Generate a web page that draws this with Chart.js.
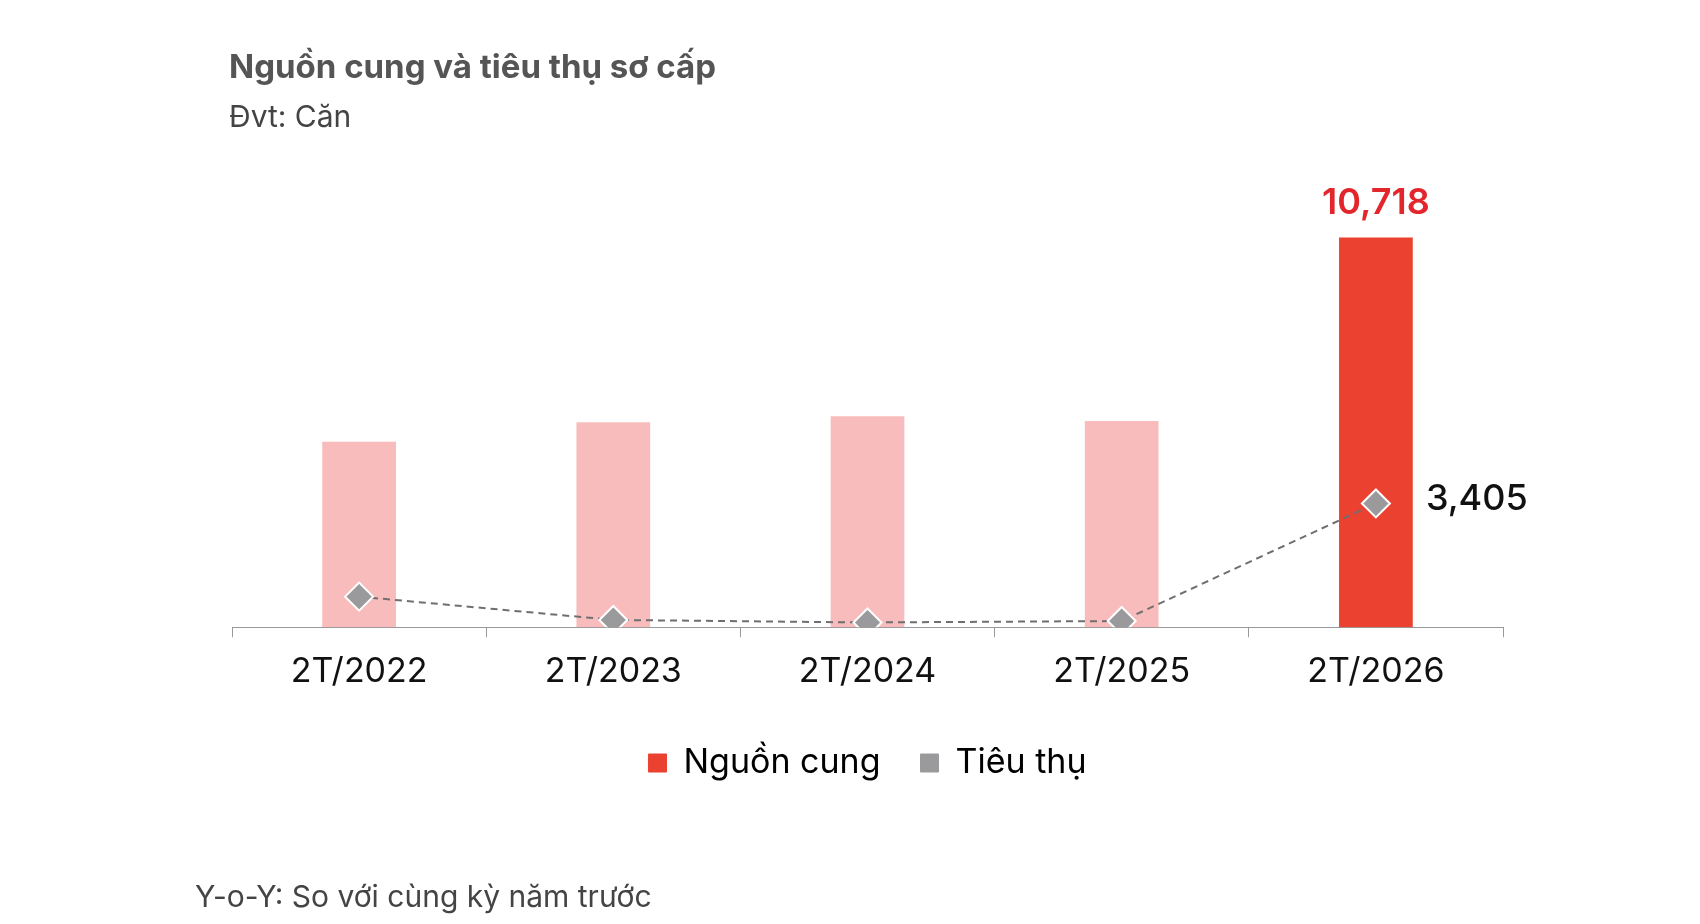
<!DOCTYPE html>
<html><head><meta charset="utf-8">
<script src="https://cdn.jsdelivr.net/npm/chart.js@4"></script>
<style>
body{margin:0;background:#fff;font-family:Inter,"Noto Sans",sans-serif;}
#wrap{position:relative;width:1700px;height:924px;}
canvas{position:absolute;left:0;top:0;}
.t{position:absolute;white-space:nowrap;}
</style></head><body>
<div id="wrap">
<canvas id="c" width="1700" height="924"></canvas>
<div class="t" style="left:229px;top:46px;font-size:33px;font-weight:700;color:#555;">Nguồn cung và tiêu thụ sơ cấp</div>
<div class="t" style="left:229px;top:98px;font-size:30px;color:#444;">Đvt: Căn</div>
<div class="t" style="left:195px;top:878px;font-size:30px;color:#444;">Y-o-Y: So với cùng kỳ năm trước</div>
</div>
<script>
const categories=["2T/2022","2T/2023","2T/2024","2T/2025","2T/2026"];
const supply=[5100,5640,5800,5670,10718];
const sales=[840,200,130,170,3405];
const supplyColors=["#F8BCBC","#F8BCBC","#F8BCBC","#F8BCBC","#EB4131"];
const labelPlugin={id:"lbl",afterDatasetsDraw(ch){
 const ctx=ch.ctx;ctx.save();
 const b=ch.getDatasetMeta(0).data[4];
 ctx.font="600 36px Inter";ctx.fillStyle="#E3262B";ctx.textAlign="center";ctx.textBaseline="bottom";
 ctx.fillText(supply[4].toLocaleString("en-US"),b.x,b.y-16);
 const p=ch.getDatasetMeta(1).data[4];
 ctx.font="500 36px Inter";ctx.fillStyle="#111";ctx.textAlign="left";ctx.textBaseline="middle";
 ctx.fillText(sales[4].toLocaleString("en-US"),p.x+50,p.y-4);
 ctx.restore();}};
new Chart(document.getElementById("c"),{
 data:{labels:categories,datasets:[
  {type:"bar",label:"Nguồn cung",data:supply,backgroundColor:supplyColors,barPercentage:0.29,categoryPercentage:1,order:2},
  {type:"line",label:"Tiêu thụ",data:sales,borderColor:"#6f6f6f",borderWidth:2,borderDash:[7,5],pointStyle:"rectRot",pointRadius:14,pointBackgroundColor:"#9a9a9c",pointBorderColor:"#fff",pointBorderWidth:2,backgroundColor:"#9a9a9c",order:1}
 ]},
 options:{responsive:false,animation:false,
  layout:{padding:{left:232,right:197,top:191,bottom:134}},
  scales:{y:{display:false,min:0,max:12000},
   x:{grid:{display:true,drawOnChartArea:false,color:"#999",tickLength:10,offset:true},border:{color:"#999"},
      ticks:{color:"#111",font:{size:34,family:"Inter"},padding:14}}},
  plugins:{tooltip:{enabled:false},
   legend:{position:"bottom",labels:{usePointStyle:true,pointStyle:"rect",boxWidth:18,boxHeight:18,padding:40,color:"#111",font:{size:34,family:"Inter"},
    generateLabels(ch){return [{text:"Nguồn cung",fillStyle:"#EB4131",strokeStyle:"#EB4131",pointStyle:"rect",datasetIndex:0},{text:"Tiêu thụ",fillStyle:"#9a9a9c",strokeStyle:"#9a9a9c",pointStyle:"rect",datasetIndex:1}];}}}}
 },plugins:[labelPlugin]});
</script></body></html>
